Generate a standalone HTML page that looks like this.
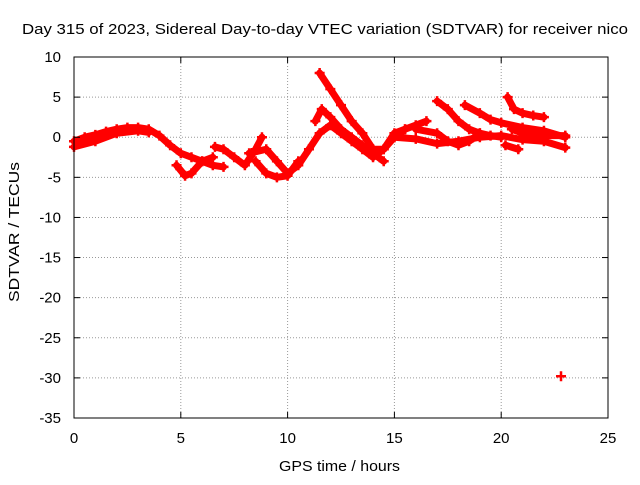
<!DOCTYPE html>
<html><head><meta charset="utf-8"><style>
body{margin:0;background:#fff;}
svg text{font-family:"Liberation Sans",sans-serif;font-size:15px;fill:#000;}
</style></head><body>
<svg id="chart" width="640" height="480">
<rect x="0" y="0" width="640" height="480" fill="#fff"/>
<g id="grid"></g>
<g id="series"></g>
<rect x="74" y="57" width="534" height="361" fill="none" stroke="#000" stroke-width="1"/>
<g id="ticks"></g>
<text x="22" y="34" textLength="606" lengthAdjust="spacingAndGlyphs">Day 315 of 2023, Sidereal Day-to-day VTEC variation (SDTVAR) for receiver nico</text>
<text x="279" y="471" textLength="121" lengthAdjust="spacingAndGlyphs">GPS time / hours</text>
<text x="162" y="19" textLength="140" lengthAdjust="spacingAndGlyphs" transform="rotate(-90 19 238) translate(-143 219)" style="display:none">SDTVAR / TECUs</text>
<text x="0" y="0" textLength="140" lengthAdjust="spacingAndGlyphs" text-anchor="middle" transform="translate(19 232) rotate(-90)">SDTVAR / TECUs</text>
</svg>
<script>
const xTicks=[0,5,10,15,20,25];
const yTicks=[10,5,0,-5,-10,-15,-20,-25,-30,-35];
const t1=[[0,-0.5],[0.5,0],[1,0.3],[1.5,0.7],[2,1.0],[2.5,1.2],[3,1.2],[3.5,1.0],[4,0.2],[4.5,-1],[5,-2],[5.5,-2.5],[6,-3],[6.5,-3.5],[7,-3.7]];
const t2=[[0,-1.2],[1,-0.5],[2,0.5],[3,0.8],[3.5,0.6]];
const t3=[[4.8,-3.5],[5.2,-4.8],[5.5,-4.5],[6,-3],[6.5,-2.5]];
const t4=[[6.6,-1.2],[7,-1.5],[7.5,-2.5],[8,-3.5],[8.5,-1.5],[8.8,0]];
const t5=[[8.2,-2],[9,-1.5],[9.5,-3],[10,-4.5],[10.5,-3.5],[11,-1.5],[11.5,0.5],[12,1.5],[12.5,0.5],[13,-0.5],[13.5,-1.5],[14,-2.5],[14.5,-1.5],[15,0],[15.5,1],[16,1.5],[16.5,2]];
const t6=[[8.5,-3],[9,-4.5],[9.5,-5],[10,-4.8],[10.5,-3]];
const t7=[[11.5,8],[12,6],[12.5,4],[13,2],[13.5,0.5],[14,-1.5],[14.5,-1.5],[15,0.5],[15.5,1]];
const t8=[[11.3,2],[11.6,3.5],[12,2.5],[12.5,1],[13,0],[13.5,-1],[14,-2],[14.5,-3]];
const t9=[[15,0],[16,-0.2],[17,-0.8],[18,-0.5],[19,0],[20,0.2],[21,-0.3],[22,-0.5],[23,-1.3]];
const t10=[[17,4.5],[17.5,3.5],[18,2],[18.5,1],[19,0.5],[19.5,0.2],[20,0]];
const t11=[[18.3,4],[19,3],[19.5,2.2],[20,1.8],[21,1.2],[22,0.8],[23,0]];
const t12=[[20.3,5],[20.6,3.5],[21,3],[21.5,2.7],[22,2.5]];
const t13=[[20.5,1],[21,0.5],[22,0.2],[23,0.2]];
const t14=[[16,1],[17,0.5],[17.5,-0.5],[18,-1],[18.5,-0.5],[19,0.5]];
const t15=[[20.2,-1],[20.8,-1.5]];
const t16=[[22.8,-29.8]];
const tracks=[t1,t2,t3,t4,t5,t6,t7,t8,t9,t10,t11,t12,t13,t14,t15,t16];
const NS="http://www.w3.org/2000/svg";
const X=v=>74+v*534/25, Y=v=>57+(10-v)*361/45;
const grid=document.getElementById('grid'),ticks=document.getElementById('ticks'),series=document.getElementById('series');
function mk(tag,attrs,parent){const e=document.createElementNS(NS,tag);for(const k in attrs)e.setAttribute(k,attrs[k]);parent.appendChild(e);return e;}
xTicks.forEach(v=>{
 if(v>0&&v<25){const g=mk('line',{x1:X(v),x2:X(v),y1:57,y2:418,stroke:'#999','stroke-dasharray':'1,2'},grid);
 
 }
 mk('line',{x1:X(v),x2:X(v),y1:418,y2:412,stroke:'#000'},ticks);
 mk('line',{x1:X(v),x2:X(v),y1:57,y2:63,stroke:'#000'},ticks);
 const t=mk('text',{x:X(v),y:443,'text-anchor':'middle'},ticks);t.textContent=v;
 
 
});
yTicks.forEach(v=>{
 if(v<10&&v>-35){const g=mk('line',{x1:74,x2:608,y1:Y(v),y2:Y(v),stroke:'#999','stroke-dasharray':'1,2'},grid);
 
 }
 mk('line',{x1:74,x2:80,y1:Y(v),y2:Y(v),stroke:'#000'},ticks);
 mk('line',{x1:602,x2:608,y1:Y(v),y2:Y(v),stroke:'#000'},ticks);
 const t=mk('text',{x:61,y:Y(v)+5,'text-anchor':'end'},ticks);t.textContent=v;
 
 
});
tracks.forEach(tr=>{
 const pts=tr.map(p=>X(p[0])+','+Y(p[1])).join(' ');
 if(tr.length>1){const pl=mk('polyline',{points:pts,fill:'none',stroke:'#f00','stroke-width':7,'stroke-linejoin':'round','stroke-linecap':'round'},series);
 
 }
 tr.forEach(p=>{const x=X(p[0]),y=Y(p[1]);
  const m=mk('path',{d:`M${x-5},${y}H${x+5}M${x},${y-5}V${y+5}`,stroke:'#f00','stroke-width':2.5},series);
  
  });
});
</script>
</body></html>
